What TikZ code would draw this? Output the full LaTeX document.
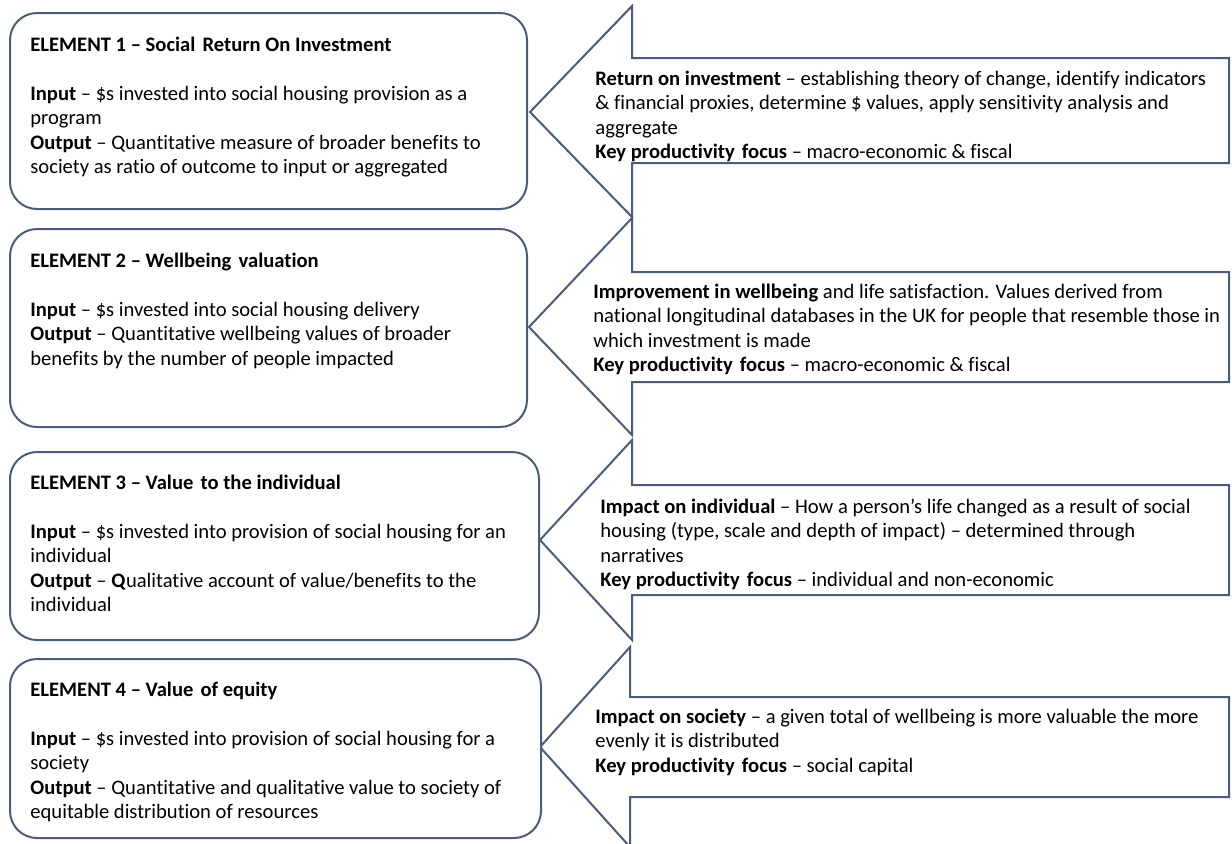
\documentclass[tikz,border=0pt]{standalone}
\usepackage{fontspec}
\setmainfont{Carlito}[Ligatures=CommonOff]
\definecolor{outline}{HTML}{4B5C78}
\newcommand{\ws}{\hspace{0.35em}}
\tikzset{
  panel/.style={draw=outline, line width=1pt, rounded corners=13.5pt, fill=white},
  pointer/.style={draw=outline, line width=1pt, line join=miter, fill=white},
  body/.style={anchor=north west, inner sep=0pt, align=left, text=black,
    font=\fontsize{10.3}{12.2}\selectfont}
}
\begin{document}
\begin{tikzpicture}[x=0.5pt,y=-0.5pt]
\useasboundingbox (0,0) rectangle (1232,843);
\clip (0,0) rectangle (1232,843);
\fill[white] (0,0) rectangle (1232,843);

% block arrows pointing back at the element boxes
\draw[pointer] (530,112) -- (632,6) -- (632,58) -- (1229,58) -- (1229,163)
  -- (632,163) -- (632,217) -- cycle;
\draw[pointer] (529,327) -- (632,218) -- (632,272) -- (1229,272) -- (1229,382)
  -- (632,382) -- (632,435) -- cycle;
\draw[pointer] (540,540) -- (632,440) -- (632,485) -- (1229,485) -- (1229,595)
  -- (632,595) -- (632,640) -- cycle;
\draw[pointer] (540,747) -- (630,647) -- (630,697) -- (1229,697) -- (1229,797)
  -- (630,797) -- (630,847) -- cycle;

% element boxes
\draw[panel] (10,13) rectangle (527,209);
\draw[panel] (10,229) rectangle (527,427);
\draw[panel] (10,452) rectangle (539,640);
\draw[panel] (10,659) rectangle (541,838);

% element descriptions
\node[body] (e1) at (30,34) {\strut\textbf{ELEMENT 1 – Social\ws Return On Investment}\\
  \strut\\
  \textbf{Input} – \$s invested into social housing provision as a\\
  program\\
  \textbf{Output} – Quantitative measure of broader benefits to\\
  society as ratio of outcome to input or aggregated};
\node[body] (e2) at (30,250) {\strut\textbf{ELEMENT 2 – Wellbeing\ws valuation}\\
  \strut\\
  \textbf{Input} – \$s invested into social housing delivery\\
  \textbf{Output} – Quantitative wellbeing values of broader\\
  benefits by the number of people impacted};
\node[body] (e3) at (30,472) {\strut\textbf{ELEMENT 3 – Value\ws to the individual}\\
  \strut\\
  \textbf{Input} – \$s invested into provision of social housing for an\\
  individual\\
  \textbf{Output} – \textbf{Q}ualitative account of value/benefits to the\\
  individual};
\node[body] (e4) at (30,679) {\strut\textbf{ELEMENT 4 – Value\ws of equity}\\
  \strut\\
  \textbf{Input} – \$s invested into provision of social housing for a\\
  society\\
  \textbf{Output} – Quantitative and qualitative value to society of\\
  equitable distribution of resources};

% arrow descriptions
\node[body] (a1) at (595,68) {\strut\textbf{Return on investment} – establishing theory of change, identify indicators\\
  \& financial proxies, determine \$ values, apply sensitivity analysis and\\
  aggregate\\
  \textbf{Key productivity\ws focus} – macro-economic \& fiscal};
\node[body] (a2) at (593,281) {\strut\textbf{Improvement in wellbeing} and life satisfaction. Values derived from\\
  national longitudinal databases in the UK for people that resemble those in\\
  which investment is made\\
  \textbf{Key productivity\ws focus} – macro-economic \& fiscal};
\node[body] (a3) at (600,496) {\strut\textbf{Impact on individual} – How a person’s life changed as a result of social\\
  housing (type, scale and depth of impact) – determined through\\
  narratives\\
  \textbf{Key productivity\ws focus} – individual and non-economic};
\node[body] (a4) at (595,706) {\strut\textbf{Impact on society} – a given total of wellbeing is more valuable the more\\
  evenly it is distributed\\
  \textbf{Key productivity\ws focus} – social capital};
\end{tikzpicture}
\end{document}
